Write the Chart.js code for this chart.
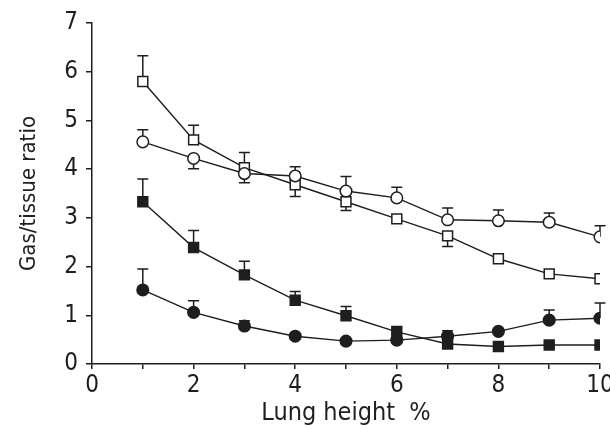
<!DOCTYPE html>
<html>
<head>
<meta charset="utf-8">
<script src="https://cdn.jsdelivr.net/npm/chart.js@4"></script>
<style>
  html, body { margin: 0; padding: 0; background: #fff; }
  #wrap { width: 610px; height: 428px; }
</style>
</head>
<body>
<div id="wrap"><canvas id="c" width="610" height="428"></canvas></div>
<script>
// Lung height (%) categories
const lungHeight = [1, 2, 3, 4, 5, 6, 7, 8, 9, 10];

// Series values (gas/tissue ratio)
const openSquare   = [5.80, 4.60, 4.03, 3.68, 3.33, 2.98, 2.63, 2.16, 1.85, 1.75];
const openCircle   = [4.56, 4.22, 3.91, 3.86, 3.55, 3.41, 2.96, 2.94, 2.91, 2.61];
const filledSquare = [3.33, 2.39, 1.83, 1.31, 0.99, 0.66, 0.41, 0.36, 0.39, 0.39];
const filledCircle = [1.52, 1.06, 0.78, 0.57, 0.47, 0.49, 0.57, 0.67, 0.90, 0.94];

// Error bars (signed: + drawn upward, - drawn downward, 0 = none)
const openSquareErr   = [0.53, 0.30, 0.31, -0.24, -0.18, 0, -0.22, 0, 0, 0];
const openCircleErr   = [0.25, -0.21, -0.19, 0.19, 0.30, 0.22, 0.24, 0.22, 0.19, 0.23];
const filledSquareErr = [0.47, 0.35, 0.28, 0.18, 0.19, 0.11, -0.07, 0, 0, 0];
const filledCircleErr = [0.43, 0.24, 0.11, 0, 0, 0, 0.11, 0, 0.21, 0.31];

// Axis ticks
const yTicks = [0, 1, 2, 3, 4, 5, 6, 7];
const xTickLabels = [0, 2, 4, 6, 8, 10];

const FONT = "'DejaVu Sans Condensed', 'Liberation Sans Narrow', 'Liberation Sans', sans-serif";
const INK = '#1e1e1e';

function pts(vals) { return lungHeight.map((x, i) => ({ x: x, y: vals[i] })); }

const errorBars = {
  id: 'errorBars',
  beforeDatasetsDraw(chart) {
    const ctx = chart.ctx;
    const xs = chart.scales.x, ys = chart.scales.y;
    ctx.save();
    ctx.strokeStyle = INK;
    ctx.lineWidth = 1.5;
    chart.data.datasets.forEach(ds => {
      const errs = ds.errors || [];
      ds.data.forEach((p, i) => {
        const e = errs[i];
        if (!e) return;
        const px = xs.getPixelForValue(p.x);
        const y0 = ys.getPixelForValue(p.y);
        const y1 = ys.getPixelForValue(p.y + e);
        ctx.beginPath();
        ctx.moveTo(px, y0);
        ctx.lineTo(px, y1);
        ctx.moveTo(px - 5.5, y1);
        ctx.lineTo(px + 5.5, y1);
        ctx.stroke();
      });
    });
    ctx.restore();
  }
};

function ds(label, vals, errs, style, filled, radius) {
  return {
    label: label,
    data: pts(vals),
    errors: errs,
    borderColor: INK,
    borderWidth: 1.4,
    pointStyle: style,
    pointRadius: radius,
    pointHoverRadius: radius,
    pointBorderWidth: 1.5,
    pointBorderColor: INK,
    pointBackgroundColor: filled ? INK : '#ffffff',
    tension: 0,
    fill: false
  };
}

new Chart(document.getElementById('c'), {
  type: 'line',
  data: {
    datasets: [
      ds('open circle', openCircle, openCircleErr, 'circle', false, 5.8),
      ds('open square', openSquare, openSquareErr, 'rect', false, 7),
      ds('filled circle', filledCircle, filledCircleErr, 'circle', true, 5.8),
      ds('filled square', filledSquare, filledSquareErr, 'rect', true, 7)
    ]
  },
  options: {
    responsive: false,
    animation: false,
    events: [],
    layout: { padding: { top: 23, right: 10, left: 0, bottom: 0 } },
    plugins: { legend: { display: false }, tooltip: { enabled: false } },
    scales: {
      x: {
        type: 'linear',
        min: 0, max: 10,
        afterBuildTicks(scale) {
          scale.ticks = [0].concat(lungHeight).map(v => ({ value: v }));
        },
        afterFit(scale) { scale.height = 64; scale.paddingRight = 0; },
        ticks: {
          autoSkip: false,
          maxRotation: 0,
          color: INK,
          padding: 2,
          font: { family: FONT, size: 24 },
          callback: (v) => xTickLabels.includes(v) ? String(v) : ''
        },
        grid: { display: true, drawOnChartArea: false, drawTicks: true, tickLength: 5, color: INK, lineWidth: 1.5 },
        border: { display: true, color: INK, width: 1.5 },
        title: { display: true, text: 'Lung height  %', color: INK, padding: { top: 0, bottom: 0 }, font: { family: FONT, size: 25 } }
      },
      y: {
        type: 'linear',
        min: 0, max: 7,
        afterBuildTicks(scale) { scale.ticks = yTicks.map(v => ({ value: v })); },
        afterFit(scale) { scale.width = 92; scale.paddingTop = 0; scale.paddingBottom = 0; },
        ticks: { color: INK, padding: 8, font: { family: FONT, size: 24 } },
        grid: { display: true, drawOnChartArea: false, drawTicks: true, tickLength: 6, color: INK, lineWidth: 1.5 },
        border: { display: true, color: INK, width: 1.5 },
        title: { display: true, text: 'Gas/tissue ratio', color: INK, padding: { top: 16, bottom: 0 }, font: { family: FONT, size: 22 } }
      }
    }
  },
  plugins: [errorBars]
});
</script>
</body>
</html>
